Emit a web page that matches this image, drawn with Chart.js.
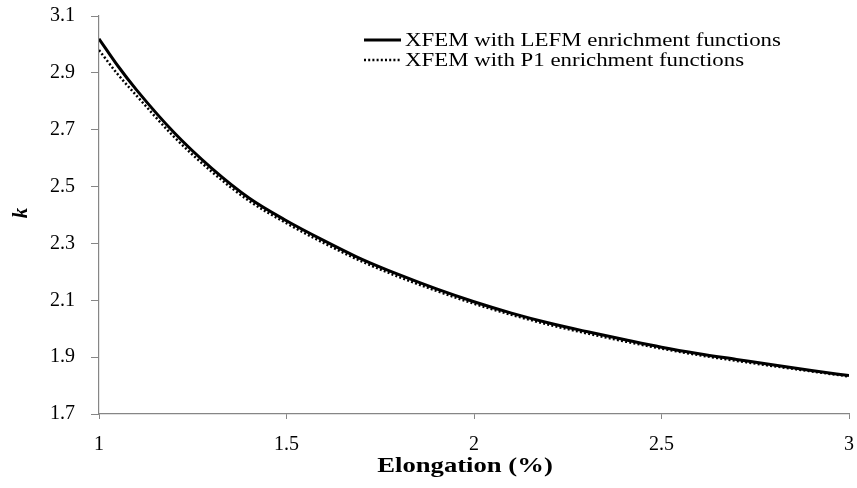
<!DOCTYPE html>
<html>
<head>
<meta charset="utf-8">
<script src="https://cdn.jsdelivr.net/npm/chart.js@4"></script>
<style>
  html, body { margin: 0; padding: 0; background: #fff; }
  #wrap { width: 857px; height: 488px; }
</style>
</head>
<body>
<div id="wrap"><canvas id="myChart"></canvas></div>
<script>
// values
const elongation = [1.0, 1.05, 1.1, 1.2, 1.3, 1.4, 1.5, 1.6, 1.7, 1.8, 1.9, 2.0, 2.1, 2.2, 2.3, 2.4, 2.5, 2.6, 2.7, 2.8, 2.9, 3.0];
const kLefm = [3.02, 2.925, 2.84, 2.69, 2.565, 2.46, 2.38, 2.31, 2.245, 2.19, 2.14, 2.095, 2.055, 2.02, 1.99, 1.962, 1.935, 1.912, 1.892, 1.872, 1.853, 1.835];
const kP1 = [2.98, 2.895, 2.82, 2.675, 2.553, 2.45, 2.371, 2.301, 2.237, 2.182, 2.133, 2.088, 2.049, 2.014, 1.984, 1.956, 1.930, 1.907, 1.887, 1.868, 1.850, 1.832];
const seriesNames = ['XFEM with LEFM enrichment functions', 'XFEM with P1 enrichment functions'];
const xTicks = [1, 1.5, 2, 2.5, 3];
const yTicks = [1.7, 1.9, 2.1, 2.3, 2.5, 2.7, 2.9, 3.1];
const xTitle = 'Elongation (%)';
const yTitle = 'k';

const serif = '"Liberation Serif", "Times New Roman", serif';
const axisGrey = '#868686';
const stretch = 1.27; // the original text is drawn wide

function pts(ys) {
    return elongation.map((x, i) => ({x: x, y: ys[i]}));
}

function wideText(c, txt, x, y, align) {
    c.save();
    c.translate(x, y);
    c.scale(stretch, 1);
    c.textAlign = align;
    c.fillText(txt, 0, 0);
    c.restore();
}

// legend and axis titles, placed like the original
const extras = {
    id: 'extras',
    afterDraw(chart) {
        const c = chart.ctx;
        const rows = [
            {y: 40, ds: chart.data.datasets[0]},
            {y: 60, ds: chart.data.datasets[1]}
        ];
        c.save();
        c.fillStyle = '#000';
        c.textBaseline = 'middle';
        c.font = '18px ' + serif;
        rows.forEach(r => {
            c.beginPath();
            c.strokeStyle = '#000';
            c.lineWidth = r.ds.borderWidth;
            c.setLineDash(r.ds.borderDash || []);
            c.moveTo(364, r.y);
            c.lineTo(401, r.y);
            c.stroke();
            c.setLineDash([]);
            wideText(c, r.ds.label, 405, r.y + 1, 'left');
        });

        c.font = 'bold 21px ' + serif;
        wideText(c, xTitle, 465, 467, 'center');

        c.font = 'italic bold 21px ' + serif;
        c.translate(22, 213);
        c.rotate(-Math.PI / 2);
        c.textAlign = 'center';
        c.fillText(yTitle, 0, 0);
        c.restore();
    }
};

const ctx = document.getElementById('myChart');

chart = new Chart(ctx, {
type: 'line',
data: {
  datasets: [{
    label: seriesNames[0],
    data: pts(kLefm),
    borderColor: '#000',
    borderWidth: 3,
    pointRadius: 0,
    cubicInterpolationMode: 'monotone'
  }, {
    label: seriesNames[1],
    data: pts(kP1),
    borderColor: '#000',
    borderWidth: 2.5,
    borderDash: [2, 2.2],
    pointRadius: 0,
    cubicInterpolationMode: 'monotone'
  }]
},
options: {
  responsive: true,
  maintainAspectRatio: false,
  animation: false,
  layout: { padding: { top: 16, right: 8, left: 0, bottom: 0 } },
  plugins: {
    legend: { display: false },
    tooltip: { enabled: false }
  },
  scales: {
    x: {
      type: 'linear',
      min: 1,
      max: 3,
      afterBuildTicks: s => { s.ticks = xTicks.map(v => ({value: v})); },
      afterFit: s => { s.height = 74; s.paddingLeft = 0; s.paddingRight = 0; },
      ticks: {
        color: '#000',
        font: { family: serif, size: 20 },
        padding: 14,
        maxRotation: 0,
        callback: v => String(v)
      },
      grid: { drawOnChartArea: false, drawTicks: true, tickLength: 5, color: axisGrey },
      border: { color: axisGrey, width: 1.2 }
    },
    y: {
      min: 1.7,
      max: 3.1,
      afterBuildTicks: s => { s.ticks = yTicks.map(v => ({value: v})); },
      afterFit: s => { s.width = 99; s.paddingTop = 0; s.paddingBottom = 0; },
      ticks: {
        color: '#000',
        font: { family: serif, size: 20 },
        padding: 16,
        callback: v => v.toFixed(1)
      },
      grid: { drawOnChartArea: false, drawTicks: true, tickLength: 8, color: axisGrey },
      border: { color: axisGrey, width: 1.2 }
    }
  }
},
plugins: [extras]
});
</script>
</body>
</html>
